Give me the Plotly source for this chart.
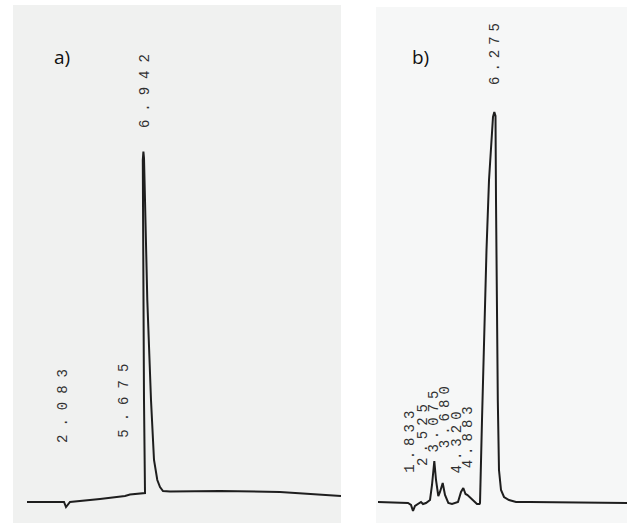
import plotly.graph_objects as go

# ---------------- data ----------------
# Panel a) chromatogram: retention time (min) vs detector signal (arb. units)
time_a = [-0.047, 1.905, 2.142, 2.261, 2.379, 2.497, 4.272, 5.752, 6.047, 6.935,
          6.876, 6.834, 6.799, 6.805, 6.840, 6.876, 6.935, 7.071, 7.290, 7.468,
          7.663, 7.823, 8.000, 8.414, 11.373, 14.923, 18.533]
signal_a = [-2, -2, -2, -7, -4, -2, 1, 4, 5.5, 7,
            100, 200, 300, 340, 348.5, 342, 300, 200, 100, 40,
            20, 13, 9, 8.5, 9, 8, 4]
peak_labels_a = ["2.083", "5.675", "6.942"]

# Panel b) chromatogram
time_b = [0.207, 1.770, 1.926, 2.030, 2.134, 2.291, 2.447, 2.551, 2.707, 2.916,
          3.020, 3.140, 3.228, 3.348, 3.436, 3.577, 3.697, 3.869, 4.061, 4.374,
          4.530, 4.650, 4.765, 4.869, 4.973, 5.103, 5.364, 5.494, 5.520, 5.624,
          5.728, 5.858, 5.989, 6.119, 6.197, 6.265, 6.327, 6.353, 6.395, 6.447,
          6.509, 6.614, 6.770, 7.030, 7.395, 8.124, 13.176]
signal_b = [-2, -3, -5, -11, -6, -4, -2, -4, -3, 0,
            15, 39, 20, 4, 8, 17, 5, -3, -4, -2,
            8, 12, 6, 5, 3, 0, -4, -4, -3, 80,
            170, 250, 320, 365, 383, 388, 384, 300, 200, 100,
            30, 10, 3, 0, -2, -2, -3]
peak_labels_b = ["1.833", "2.525", "3.075", "3.680", "4.320", "4.883", "6.275"]

# ---------------- figure ----------------
W, H = 627, 523
fig = go.Figure()

line_style = dict(color="#1e1e1e", width=2)
fig.add_trace(go.Scatter(x=time_a, y=signal_a, mode="lines", line=line_style,
                         xaxis="x", yaxis="y", hoverinfo="skip", showlegend=False))
fig.add_trace(go.Scatter(x=time_b, y=signal_b, mode="lines", line=line_style,
                         xaxis="x2", yaxis="y2", hoverinfo="skip", showlegend=False))

# panel placement (pixels)
a_left, a_right, a_top = 13, 341, 5
b_left, b_right, b_top = 376, 627, 7

hidden = dict(visible=False, showgrid=False, zeroline=False, fixedrange=True)
fig.update_layout(
    width=W, height=H,
    margin=dict(l=0, r=0, t=0, b=0),
    paper_bgcolor="white", plot_bgcolor="rgba(0,0,0,0)",
    xaxis=dict(domain=[a_left / W, a_right / W], range=[-0.876, 18.533], **hidden),
    yaxis=dict(domain=[0, 1], range=[-23, 500], **hidden),
    xaxis2=dict(domain=[b_left / W, b_right / W], range=[0.103, 13.176], anchor="y2", **hidden),
    yaxis2=dict(domain=[0, 1], range=[-23, 500], anchor="x2", **hidden),
)

# paper sheets
fig.add_shape(type="rect", xref="paper", yref="paper", layer="below",
              x0=a_left / W, x1=a_right / W, y0=0, y1=1 - a_top / H,
              line=dict(width=0), fillcolor="#f0f1f0")
fig.add_shape(type="rect", xref="paper", yref="paper", layer="below",
              x0=b_left / W, x1=b_right / W, y0=0, y1=1 - b_top / H,
              line=dict(width=0), fillcolor="#f6f7f7")

label_font = dict(family="Liberation Mono", size=14, color="#303030")

def add_rt_label(text, xref, yref, ylevel, spacing):
    fig.add_annotation(
        x=float(text), y=ylevel, xref=xref, yref=yref,
        text=f'<span style="letter-spacing:{spacing}px">{text}</span>',
        textangle=-90, showarrow=False, xanchor="center", yanchor="bottom",
        font=label_font,
    )

levels_a = [55, 60, 370]
for lab, lev in zip(peak_labels_a, levels_a):
    add_rt_label(lab, "x", "y", lev, 8)

levels_b = [25, 32, 45, 50, 25, 30, 413]
for lab, lev in zip(peak_labels_b, levels_b):
    add_rt_label(lab, "x2", "y2", lev, 5)

# panel letters
for letter, px in (("a)", 62), ("b)", 420)):
    fig.add_annotation(x=px / W, y=1 - 57 / H, xref="paper", yref="paper", text=letter,
                       showarrow=False, xanchor="center", yanchor="middle",
                       font=dict(family="Open Sans", size=19, color="#111"))

fig.write_html(
    "out.html",
    config={"displayModeBar": False, "staticPlot": True},
    post_script="document.body.style.margin='0';document.body.style.overflow='hidden';",
)
